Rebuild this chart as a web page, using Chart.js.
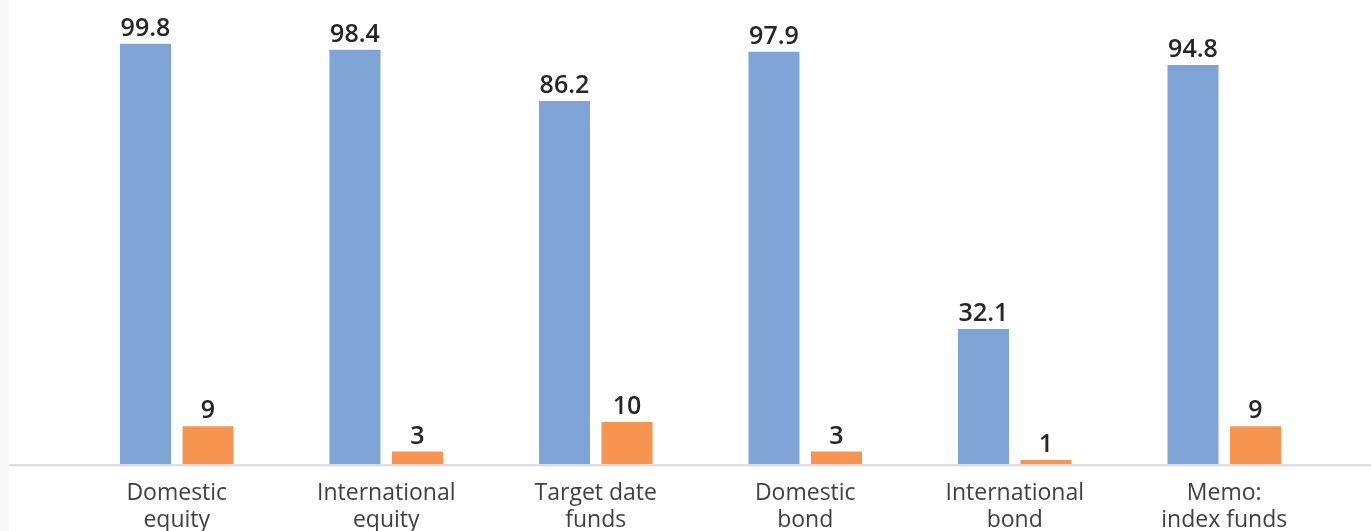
<!DOCTYPE html>
<html><head><meta charset="utf-8">
<script src="https://cdn.jsdelivr.net/npm/chart.js@4/dist/chart.umd.min.js"></script>
<style>
html,body{margin:0;padding:0;background:#fff;overflow:hidden;}
#wrap{position:relative;width:1371px;height:542px;}
#strip{position:absolute;left:0;top:0;width:9px;height:542px;background:#f8f8f8;}
</style></head><body>
<div id="wrap"><div id="strip"></div><canvas id="c"></canvas></div>
<script>
const categories = [["Domestic","equity"],["International","equity"],["Target date","funds"],["Domestic","bond"],["International","bond"],["Memo:","index funds"]];
const seriesA = [99.8, 98.4, 86.2, 97.9, 32.1, 94.8];
const seriesB = [9, 3, 10, 3, 1, 9];
const labelsA = ["99.8","98.4","86.2","97.9","32.1","94.8"];
const labelsB = ["9","3","10","3","1","9"];

const baseline = {
  id:'baseline',
  beforeDatasetsDraw(chart){
    const {ctx} = chart; const y = chart.scales.y.getPixelForValue(0);
    ctx.save(); ctx.strokeStyle='#d9d9d9'; ctx.lineWidth=2;
    ctx.beginPath(); ctx.moveTo(9,y+1); ctx.lineTo(chart.width,y+1); ctx.stroke(); ctx.restore();
  }
};
const dataLabels = {
  id:'dataLabels',
  afterDatasetsDraw(chart){
    const {ctx} = chart;
    ctx.save();
    ctx.font = '600 25px "Open Sans", sans-serif';
    ctx.fillStyle = '#262626'; ctx.textAlign='center'; ctx.textBaseline='alphabetic';
    [labelsA, labelsB].forEach((lab, di) => {
      chart.getDatasetMeta(di).data.forEach((el, i) => {
        ctx.fillText(lab[i], el.x, el.y - 8);
      });
    });
    ctx.restore();
  }
};

new Chart(document.getElementById('c'), {
  type:'bar',
  data:{
    labels: categories,
    datasets:[
      {data: seriesA, backgroundColor:'#7fa5d7', categoryPercentage:0.597, barPercentage:0.816},
      {data: seriesB, backgroundColor:'#f79450', categoryPercentage:0.597, barPercentage:0.816}
    ]
  },
  options:{
    responsive:true, maintainAspectRatio:false, animation:false,
    layout:{padding:{left:72, right:42, top:43, bottom:0}},
    plugins:{legend:{display:false}, tooltip:{enabled:false}},
    scales:{
      y:{display:false, min:0, max:100},
      x:{
        grid:{display:false}, border:{display:false},
        ticks:{color:'#404040', padding:8, maxRotation:0, autoSkip:false,
          font:{family:'"Open Sans", sans-serif', size:23, lineHeight:1.17}}
      }
    }
  },
  plugins:[baseline, dataLabels]
});
</script></body></html>
